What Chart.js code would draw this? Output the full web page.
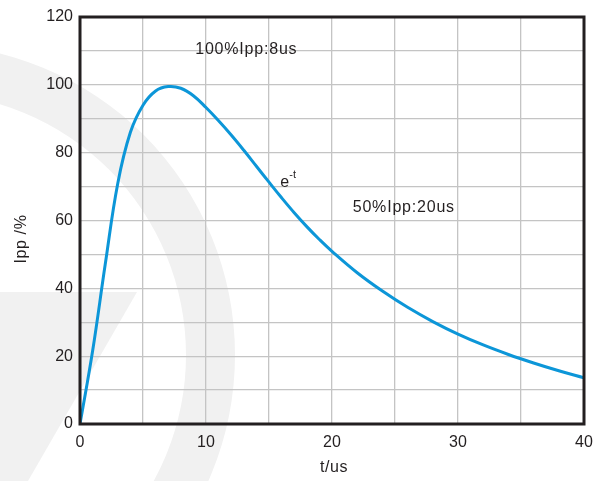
<!DOCTYPE html>
<html>
<head>
<meta charset="utf-8">
<script src="https://cdn.jsdelivr.net/npm/chart.js@4/dist/chart.umd.min.js"></script>
<style>
  body { margin: 0; background: #fff; }
  #wrap { width: 603px; height: 481px; position: relative; }
</style>
</head>
<body>
<div id="wrap"><canvas id="pulseChart"></canvas></div>
<script>
// time axis (us) and current (% of Ipp)
const timeUs = [0, 1, 2, 3, 4, 5, 6, 7, 8, 9, 10, 11, 12, 13, 14, 15, 16, 17, 18, 19, 20, 22, 24, 26, 28, 30, 32, 34, 36, 38, 40];
const ippPct = [0, 21.5, 47, 71, 86, 94, 98.2, 99.5, 99, 96.8, 93.3, 89.4, 85.2, 80.7, 76.0, 71.3, 66.7, 62.3, 58.2, 54.4, 50.9, 44.6, 39.2, 34.4, 30.2, 26.5, 23.3, 20.5, 18.0, 15.7, 13.6];

const xTitle = 't/us';
const yTitle = 'Ipp /%';

// text notes on the plot, in data units
const noteText = ['100%Ipp:8us', 'e', '50%Ipp:20us'];
const noteX = [13.2, 15.9, 25.7];
const noteY = [110.3, 71.3, 63.7];

const textColor = '#231f20';
const fontFamily = 'Arial, "Liberation Sans", sans-serif';

// faint logo watermark behind everything
const watermark = {
    id: 'watermark',
    beforeDraw(chart) {
        const ctx = chart.ctx;
        ctx.save();
        ctx.fillStyle = '#f1f1f1';
        ctx.beginPath();
        ctx.arc(-76, 355, 311, 0, Math.PI * 2);
        ctx.arc(-76, 355, 262, 0, Math.PI * 2, true);
        ctx.fill();
        ctx.beginPath();
        ctx.moveTo(0, 292);
        ctx.lineTo(137, 292);
        ctx.lineTo(28, 481);
        ctx.lineTo(0, 481);
        ctx.closePath();
        ctx.fill();
        ctx.restore();
    }
};

// frame, axis titles and the curve notes
const extras = {
    id: 'extras',
    afterDatasetsDraw(chart) {
        const ctx = chart.ctx;
        const a = chart.chartArea;
        const xs = chart.scales.x, ys = chart.scales.y;
        ctx.save();
        ctx.strokeStyle = textColor;
        ctx.lineWidth = 3;
        ctx.strokeRect(a.left, a.top, a.right - a.left, a.bottom - a.top);

        ctx.fillStyle = textColor;
        ctx.font = '16px ' + fontFamily;
        ctx.letterSpacing = '0.8px';
        ctx.textBaseline = 'middle';
        ctx.textAlign = 'center';
        ctx.fillText(noteText[0], xs.getPixelForValue(noteX[0]), ys.getPixelForValue(noteY[0]));
        ctx.fillText(noteText[2], xs.getPixelForValue(noteX[2]), ys.getPixelForValue(noteY[2]));

        // e^-t
        ctx.textAlign = 'left';
        const ex = xs.getPixelForValue(noteX[1]);
        const ey = ys.getPixelForValue(noteY[1]);
        ctx.fillText(noteText[1], ex, ey);
        ctx.font = '11px ' + fontFamily;
        ctx.letterSpacing = '0px';
        ctx.fillText('-t', ex + 9, ey - 7);

        ctx.font = '16px ' + fontFamily;
        ctx.letterSpacing = '0.6px';
        ctx.textAlign = 'center';
        ctx.fillText(xTitle, 334, 468);
        ctx.translate(22, 239);
        ctx.rotate(-Math.PI / 2);
        ctx.fillText(yTitle, 0, 0);
        ctx.restore();
    }
};

new Chart(document.getElementById('pulseChart'), {
    type: 'line',
    data: {
        datasets: [{
            data: timeUs.map((t, i) => ({ x: t, y: ippPct[i] })),
            borderColor: '#0c96d8',
            borderWidth: 3,
            pointRadius: 0,
            fill: false,
            tension: 0.4
        }]
    },
    options: {
        responsive: true,
        maintainAspectRatio: false,
        animation: false,
        layout: { padding: { top: 17, right: 19, left: 0, bottom: 0 } },
        plugins: { legend: { display: false }, tooltip: { enabled: false } },
        scales: {
            x: {
                type: 'linear',
                min: 0,
                max: 40,
                afterFit: s => { s.height = 57; },
                border: { display: false },
                grid: { color: '#c4c4c4', lineWidth: 1.3, drawTicks: false },
                ticks: {
                    stepSize: 5,
                    padding: 9,
                    color: textColor,
                    font: { size: 16, family: fontFamily },
                    callback: v => (v % 10 === 0 ? v : '')
                }
            },
            y: {
                min: 0,
                max: 120,
                afterFit: s => { s.width = 80; },
                border: { display: false },
                grid: { color: '#c4c4c4', lineWidth: 1.3, drawTicks: false },
                ticks: {
                    stepSize: 10,
                    padding: 7,
                    color: textColor,
                    font: { size: 16, family: fontFamily },
                    callback: v => (v % 20 === 0 ? v : '')
                }
            }
        }
    },
    plugins: [watermark, extras]
});
</script>
</body>
</html>
